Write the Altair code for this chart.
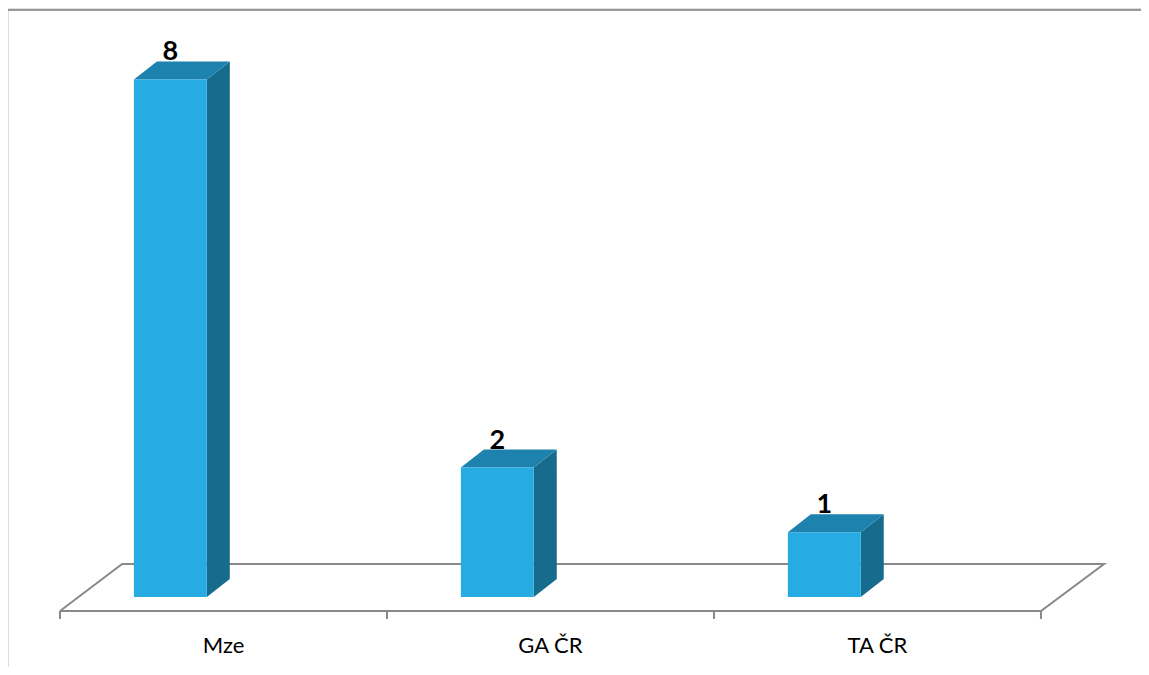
import altair as alt
import pandas as pd

# ---- data ----
categories = ["Mze", "GA ČR", "TA ČR"]
values = [8, 2, 1]

# ---- style / geometry constants (in scale units) ----
W, H = 1133, 659
X_DOMAIN = [-0.659, 2.806]
Y_DOMAIN = [-1.082, 9.104]
BAR_LEFT = -0.274      # front-left edge relative to category index
BAR_W = 0.223          # front face width
DX = 0.0703            # depth, horizontal
DY = 0.278             # depth, vertical
FLOOR_FRONT = -0.216
FLOOR_BACK = 0.51
FLOOR_BACK_L = -0.31
FLOOR_BACK_R = 2.693
TICK_BOTTOM = -0.34
LABEL_Y = -0.76

FRONT = "#26ABE2"
TOP = "#1E82AE"
SIDE = "#176C8E"
GRID = "#898989"

idx = list(range(len(categories)))
base = pd.DataFrame({"name": categories, "i": idx, "v": values})

front = base.assign(x0=base["i"] + BAR_LEFT, x1=base["i"] + BAR_LEFT + BAR_W, y0=0.0)

side_rows, top_rows = [], []
for name, i, v in zip(categories, idx, values):
    x0 = i + BAR_LEFT
    x1 = x0 + BAR_W
    side_rows += [
        {"name": name, "x": x1, "lo": 0.0, "hi": v},
        {"name": name, "x": x1 + DX, "lo": DY, "hi": v + DY},
    ]
    top_rows += [
        {"name": name, "x": x0, "lo": v, "hi": v},
        {"name": name, "x": x0 + DX, "lo": v, "hi": v + DY},
        {"name": name, "x": x1, "lo": v, "hi": v + DY},
        {"name": name, "x": x1 + DX, "lo": v + DY, "hi": v + DY},
    ]
side = pd.DataFrame(side_rows)
top = pd.DataFrame(top_rows)

lbl = base.assign(x=base["i"] + BAR_LEFT + BAR_W / 2, y=base["v"] + DY)

n = len(categories)
floor = pd.DataFrame({
    "x": [-0.5, n - 0.5, FLOOR_BACK_R, FLOOR_BACK_L, -0.5],
    "y": [FLOOR_FRONT, FLOOR_FRONT, FLOOR_BACK, FLOOR_BACK, FLOOR_FRONT],
    "k": [0, 1, 2, 3, 4],
})
ticks = pd.DataFrame({"x": [k - 0.5 for k in range(n + 1)],
                      "y0": FLOOR_FRONT, "y1": TICK_BOTTOM})
cat_df = base.assign(ly=LABEL_Y)

xs = alt.Scale(domain=X_DOMAIN, nice=False, zero=False)
ys = alt.Scale(domain=Y_DOMAIN, nice=False, zero=False)


def X(f):
    return alt.X(f, type="quantitative", scale=xs, axis=None)


def Y(f):
    return alt.Y(f, type="quantitative", scale=ys, axis=None)


floor_l = alt.Chart(floor).mark_line(color=GRID, strokeWidth=2).encode(
    x=X("x"), y=Y("y"), order=alt.Order("k:Q"))

tick_l = alt.Chart(ticks).mark_rule(color=GRID, strokeWidth=2).encode(
    x=X("x"), y=Y("y0"), y2="y1")

side_l = alt.Chart(side).mark_area(color=SIDE, opacity=1).encode(
    x=X("x"), y=Y("lo"), y2="hi", detail="name:N")
top_l = alt.Chart(top).mark_area(color=TOP, opacity=1).encode(
    x=X("x"), y=Y("lo"), y2="hi", detail="name:N")
front_l = alt.Chart(front).mark_rect(color=FRONT).encode(
    x=X("x0"), x2="x1", y=Y("y0"), y2="v")

val_l = alt.Chart(lbl).mark_text(
    font="Lato", fontSize=27, fontWeight="bold", color="black",
    baseline="alphabetic", dy=-1
).encode(x=X("x"), y=Y("y"), text="v:Q")

cat_l = alt.Chart(cat_df).mark_text(
    font="Lato", fontSize=22, color="black", baseline="middle"
).encode(x=X("i"), y=Y("ly"), text="name:N")

border_top = alt.Chart(base).mark_rule(color="#999999", strokeWidth=2).encode(
    x=alt.value(-1), x2=alt.value(W + 20), y=alt.value(2))
border_left = alt.Chart(base).mark_rule(color="#999999", strokeWidth=2).encode(
    x=alt.value(-1), y=alt.value(2), y2=alt.value(H + 20))

chart = alt.layer(
    border_top, border_left, floor_l, tick_l, side_l, top_l, front_l, val_l, cat_l
).properties(
    width=W, height=H, padding=0, autosize=alt.AutoSizeParams(type="none")
).configure_view(stroke=None).configure(background="white")

chart.save("out.html", embed_options={"renderer": "svg", "actions": False})
